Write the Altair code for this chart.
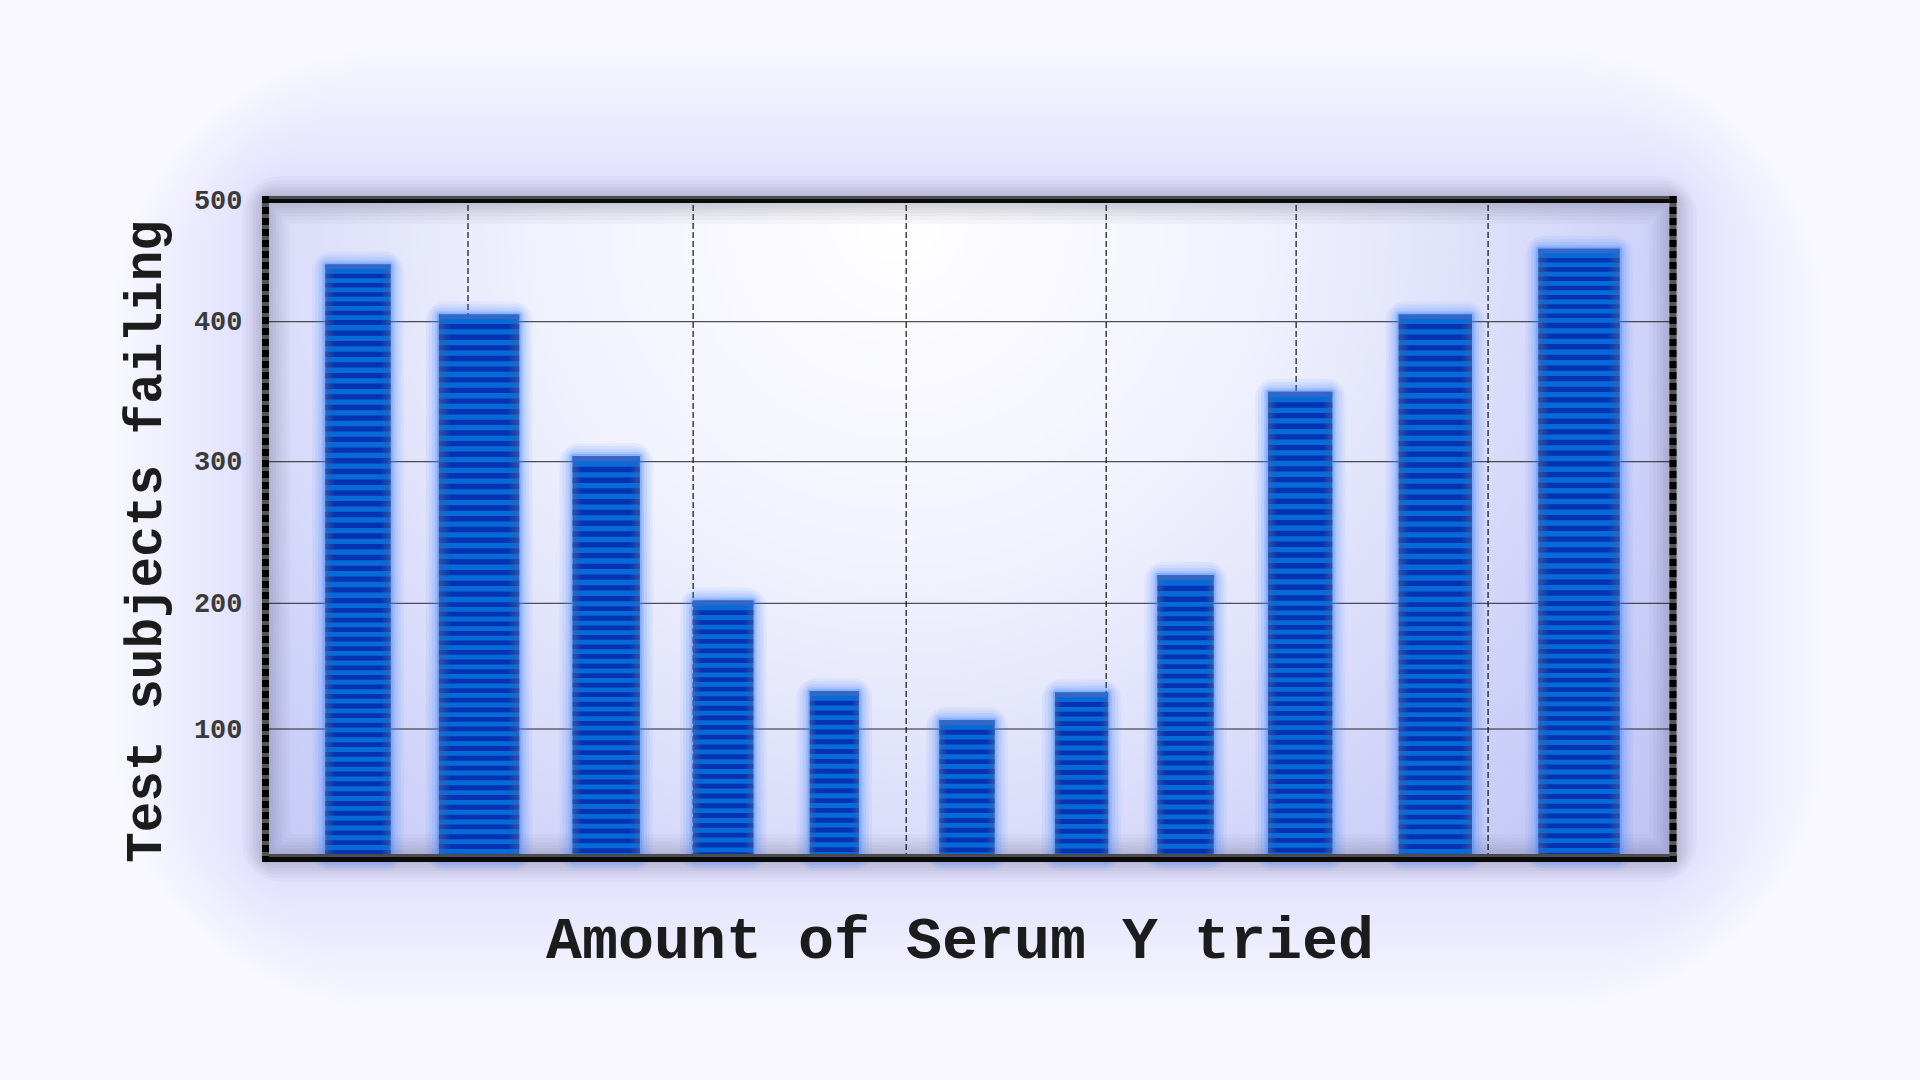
import altair as alt
import pandas as pd

# ---- data ----
bar_start = [0.59, 1.72, 3.05, 4.25, 5.41, 6.70, 7.85, 8.87, 9.97, 11.27, 12.66]
bar_end = [1.24, 2.52, 3.72, 4.85, 5.90, 7.25, 8.38, 9.43, 10.61, 12.00, 13.47]
failing = [447, 406, 304, 202, 130, 107, 129, 220, 350, 406, 460]
grid_x = [2.01, 4.25, 6.37, 8.36, 10.25, 12.16]
y_ticks = [100, 200, 300, 400, 500]
y_grid = [100, 200, 300, 400]

bars = pd.DataFrame({"x0": bar_start, "x1": bar_end, "v": failing})
gx = pd.DataFrame({"g": grid_x})
gy = pd.DataFrame({"t": y_grid})
one = pd.DataFrame({"d": [0]})

W, H = 1407, 658
FONT = "Courier New, Liberation Mono, monospace"

xs = alt.Scale(domain=[0, 14], nice=False, zero=False)
ys = alt.Scale(domain=[0, 100, 200, 300, 400, 500], range=[H, 529, 403.3, 261.7, 121.7, 0], nice=False)

xaxis = alt.Axis(labels=False, ticks=False, domain=False, grid=False, zindex=1,
                 title="Amount of Serum Y tried", titleFont=FONT, titleFontSize=60,
                 titleFontWeight="bold", titleColor="#1c1c1c", titleX=693.5, titleY=99,
                 titleAlign="center", titleBaseline="alphabetic", titleAngle=0)
yaxis = alt.Axis(values=y_ticks, ticks=False, domain=False, grid=False, zindex=1,
                 labelFont=FONT, labelFontSize=27, labelFontWeight="bold", labelColor="#3a3a3a",
                 labelPadding=24, labelAlign="right", labelBaseline="middle", labelOverlap=False,
                 labelFlush=False,
                 title="Test subjects failing", titleFont=FONT, titleFontSize=51,
                 titleFontWeight="bold", titleColor="#1c1c1c", titleX=-106, titleY=341,
                 titleAngle=270, titleAlign="center", titleBaseline="alphabetic")

X0 = alt.X("x0:Q", scale=xs, axis=xaxis)
X1 = alt.X2("x1:Q")
Y0 = alt.Y("v:Q", scale=ys, axis=yaxis)

# ---- background: soft lavender halo around the frame ----
halo = [
    alt.Chart(one).mark_rect(filled=False, clip=False, stroke="#a6a9e0", strokeWidth=sw,
                             strokeOpacity=0.017, cornerRadius=sw / 2.5).encode(
        x=alt.value(0), x2=alt.value(W), y=alt.value(0), y2=alt.value(H))
    for sw in range(12, 312, 12)
]

panel = alt.Chart(one).mark_rect(fill={
    "gradient": "radial", "x1": 0.45, "y1": 0.28, "r1": 0, "x2": 0.45, "y2": 0.28, "r2": 0.85,
    "stops": [{"offset": 0, "color": "#ffffff"}, {"offset": 0.3, "color": "#f1f2fd"},
              {"offset": 0.65, "color": "#cdd0f8"}, {"offset": 1, "color": "#b2b8f2"}]}).encode(
    x=alt.value(0), x2=alt.value(W), y=alt.value(0), y2=alt.value(H))

shadows = [
    alt.Chart(one).mark_rect(filled=False, clip=False, stroke="#50506a", strokeWidth=sw,
                             strokeOpacity=0.04, cornerRadius=sw / 3).encode(
        x=alt.value(0), x2=alt.value(W), y=alt.value(0), y2=alt.value(H))
    for sw in [48, 40, 32, 26, 20, 15, 10, 6]
]

hgrid = alt.Chart(gy).mark_rule(color="#111111", strokeWidth=1, opacity=0.9).encode(
    y=alt.Y("t:Q", scale=ys, axis=yaxis), x=alt.value(0), x2=alt.value(W))
vgrid = alt.Chart(gx).mark_rule(color="#111111", strokeWidth=1.2, strokeDash=[6, 3]).encode(
    x=alt.X("g:Q", scale=xs, axis=xaxis), y=alt.value(-4), y2=alt.value(H))

# ---- bars: glow, body, stripes, cap ----
glows = [
    alt.Chart(bars).mark_bar(fillOpacity=0, stroke="#3f86ff", strokeWidth=sw, strokeOpacity=op,
                             cornerRadius=sw / 4).encode(
        x=X0, x2=X1, y=Y0, y2=alt.datum(0))
    for sw, op in [(26, 0.07), (20, 0.09), (14, 0.12), (8, 0.18), (4, 0.3)]
]

body = alt.Chart(bars).mark_bar(fill={
    "gradient": "linear", "x1": 0, "y1": 0, "x2": 1, "y2": 0,
    "stops": [{"offset": 0, "color": "#2868c4"}, {"offset": 0.12, "color": "#066ada"},
              {"offset": 0.88, "color": "#066ada"}, {"offset": 1, "color": "#2868c4"}]}).encode(
    x=X0, x2=X1, y=Y0, y2=alt.datum(0))

stripes = alt.Chart(bars).transform_calculate(
    o="sequence(7.6, datum.v, 7.6)").transform_flatten(["o"]).transform_calculate(
    s1="datum.v - datum.o", s2="max(datum.v - datum.o - 3.8, 0)").transform_filter(
    "datum.s1 > 0").mark_bar(fill={
        "gradient": "linear", "x1": 0, "y1": 0, "x2": 1, "y2": 0,
        "stops": [{"offset": 0, "color": "#3552a0"}, {"offset": 0.15, "color": "#0532b0"},
                  {"offset": 0.85, "color": "#0532b0"}, {"offset": 1, "color": "#3552a0"}]}).encode(
    x=X0, x2=X1, y=alt.Y("s1:Q", scale=ys, axis=yaxis), y2="s2:Q")

cap = alt.Chart(bars).transform_calculate(c="datum.v - 3.8").mark_bar(fill="#3468c4").encode(
    x=X0, x2=X1, y=Y0, y2="c:Q")

# ---- frame ----
frame = [
    alt.Chart(one).mark_rule(color="#4c4c4c", strokeWidth=3, clip=False).encode(
        x=alt.value(-4), x2=alt.value(W + 4), y=alt.value(-2.5)),
    alt.Chart(one).mark_rule(color="#0a0a0a", strokeWidth=4, clip=False).encode(
        x=alt.value(-4), x2=alt.value(W + 4), y=alt.value(1)),
    alt.Chart(one).mark_rule(color="#4c4c4c", strokeWidth=3, clip=False).encode(
        x=alt.value(-4), x2=alt.value(W + 4), y=alt.value(H - 2.5)),
    alt.Chart(one).mark_rule(color="#0a0a0a", strokeWidth=5, clip=False).encode(
        x=alt.value(-4), x2=alt.value(W + 4), y=alt.value(H + 1.5)),
    alt.Chart(one).mark_rule(color="#555555", strokeWidth=7, clip=False).encode(
        x=alt.value(-0.5), y=alt.value(-4), y2=alt.value(H + 4)),
    alt.Chart(one).mark_rule(color="#000000", strokeWidth=7, strokeDash=[7, 4], clip=False).encode(
        x=alt.value(-0.5), y=alt.value(-4), y2=alt.value(H + 4)),
    alt.Chart(one).mark_rule(color="#555555", strokeWidth=7, clip=False).encode(
        x=alt.value(W), y=alt.value(-4), y2=alt.value(H + 4)),
    alt.Chart(one).mark_rule(color="#000000", strokeWidth=7, strokeDash=[7, 4], clip=False).encode(
        x=alt.value(W), y=alt.value(-4), y2=alt.value(H + 4)),
]

chart = alt.layer(
    *halo, panel, *shadows, hgrid, vgrid, *glows, body, stripes, cap, *frame
).properties(
    width=W, height=H,
    autosize=alt.AutoSizeParams(type="none"),
    padding={"left": 266, "top": 200, "right": 247, "bottom": 222},
    background="#f8f8fe",
).configure_view(stroke=None)

chart.save("out.html", embed_options={"renderer": "svg", "actions": False})
